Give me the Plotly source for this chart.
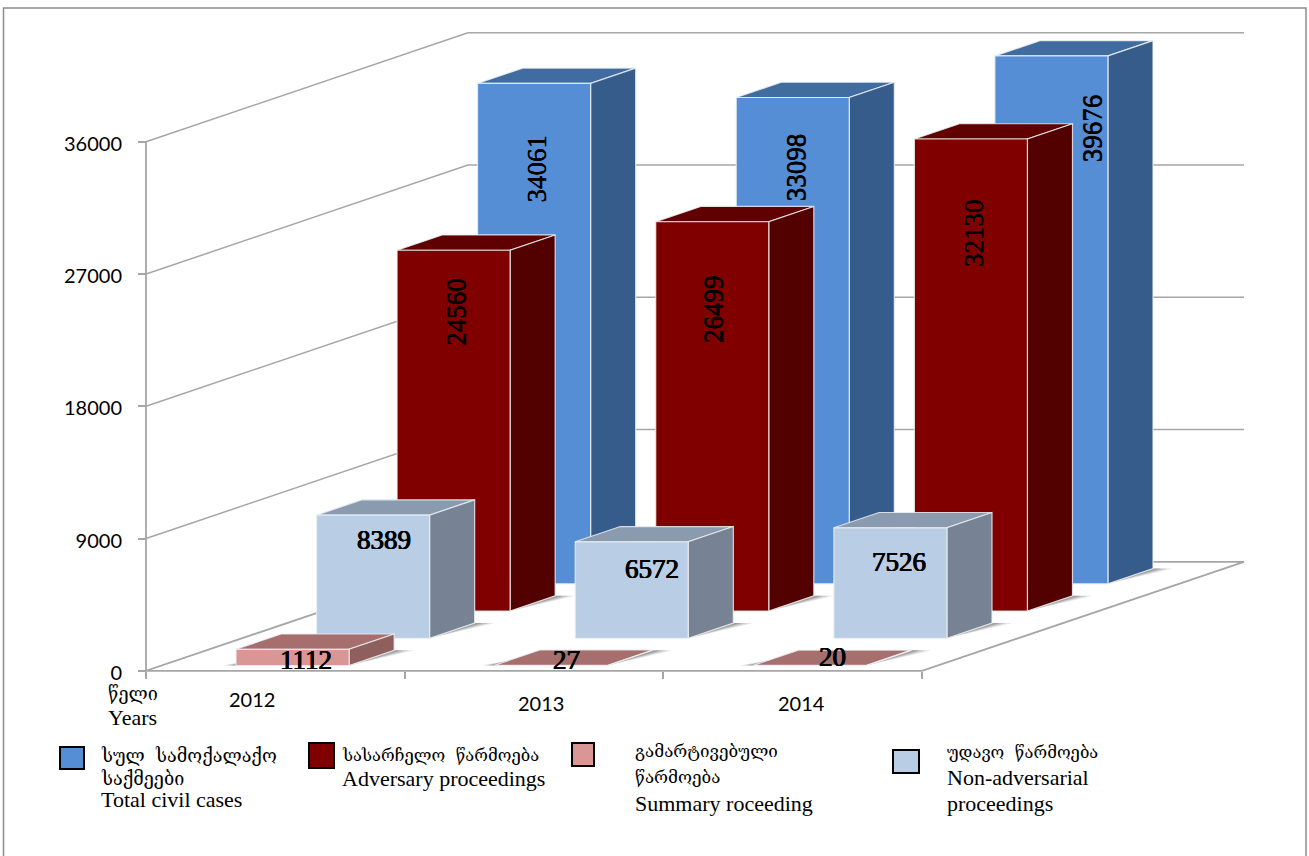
import plotly.graph_objects as go

# ---- data ----
years = ["2012", "2013", "2014"]
# drawn bar heights, read against the value axis
total_civil = [34061, 33098, 35930]
adversary = [24560, 26499, 32130]
non_adversarial = [8389, 6572, 7526]
summary = [1112, 27, 20]
# printed data labels (the tallest bar's label differs from its drawn height)
total_civil_labels = ["34061", "33098", "39676"]
adversary_labels = ["24560", "26499", "32130"]
non_adversarial_labels = ["8389", "6572", "7526"]
summary_labels = ["1112", "27", "20"]
value_ticks = [0, 9000, 18000, 27000, 36000]

legend_total = ["სულ  სამოქალაქო", "საქმეები", "Total civil cases"]
legend_adversary = ["სასარჩელო  წარმოება", "Adversary proceedings"]
legend_summary = ["გამარტივებული", "წარმოება", "Summary roceeding"]
legend_nonadv = ["უდავო  წარმოება", "Non-adversarial", "proceedings"]
axis_title = ["წელი", "Years"]

# ---- layout geometry (pixels of the 1309x856 page) ----
W, H = 1309, 856
PX0, PY0 = 146, 670.8        # origin of the front floor edge
PX_PER_CAT = 776 / 3
PX_PER_VAL = 529 / 36000
SLOT_DX, SLOT_DY = 80.5, 27.25   # one depth slot
N_SLOTS = 4
CAT_GAP, BAR_W = 0.289, 0.437
DEPTH_GAP, DEPTH_W = 0.19, 0.56

x_range = [-PX0 / PX_PER_CAT, (W - PX0) / PX_PER_CAT]
y_range = [-(H - PY0) / PX_PER_VAL, PY0 / PX_PER_VAL]


def proj(cat, depth, value):
    """oblique projection into the axis units"""
    return (cat + depth * SLOT_DX / PX_PER_CAT,
            value + depth * SLOT_DY / PX_PER_VAL)


def poly(points):
    xs, ys = [], []
    for c, d, v in points:
        x, y = proj(c, d, v)
        xs.append(x)
        ys.append(y)
    xs.append(xs[0])
    ys.append(ys[0])
    return xs, ys


def merged(polys):
    xs, ys = [], []
    for px, py in polys:
        xs += px + [None]
        ys += py + [None]
    return xs, ys


fig = go.Figure()
GRID = "#A6A6A6"

# walls + floor
for v in value_ticks[1:]:
    xs, ys = [], []
    for c, d in [(0, 0), (0, N_SLOTS), (3, N_SLOTS)]:
        x, y = proj(c, d, v)
        xs.append(x)
        ys.append(y)
    fig.add_trace(go.Scatter(x=xs, y=ys, mode="lines", line=dict(color=GRID, width=1.5), hoverinfo="skip"))
xs, ys = [], []
for c, d, v in [(0, 0, 36000), (0, 0, 0), (0, N_SLOTS, 0), (3, N_SLOTS, 0), (3, 0, 0), (0, 0, 0)]:
    x, y = proj(c, d, v)
    xs.append(x)
    ys.append(y)
fig.add_trace(go.Scatter(x=xs, y=ys, mode="lines", line=dict(color=GRID, width=1.8), hoverinfo="skip"))

series = [
    # values, labels, slot, front, side, top
    (total_civil, total_civil_labels, 3, "#558ED5", "#365C8B", "#416C9F"),
    (adversary, adversary_labels, 2, "#800000", "#530000", "#600000"),
    (non_adversarial, non_adversarial_labels, 1, "#B9CDE5", "#778394", "#8A9BB0"),
    (summary, summary_labels, 0, "#D99694", "#8E5F5D", "#A66F6E"),
]

for values, _labels, slot, front, side, top in series:
    d0 = slot + DEPTH_GAP
    d1 = d0 + DEPTH_W
    cats = range(len(values))
    lefts = [k + CAT_GAP for k in cats]
    rights = [k + CAT_GAP + BAR_W for k in cats]

    # soft floor shadow, layered
    for reach, alpha in [(1.0, 0.16), (0.7, 0.24), (0.4, 0.34)]:
        sh = [poly([(r, d0, 0), (r, d1, 0), (r + reach * 20 / PX_PER_CAT, d1, 0)]) for r in rights]
        sh += [poly([(l, d0, 0), (l - reach * 14 / PX_PER_CAT, d0, 0), (l, d0 + 0.2, 0)]) for l in lefts] if slot == 0 else []
        xs, ys = merged(sh)
        fig.add_trace(go.Scatter(x=xs, y=ys, mode="lines", fill="toself",
                                 fillcolor=f"rgba(90,90,90,{alpha})", line=dict(width=0), hoverinfo="skip"))

    faces = [
        (top, [poly([(l, d0, v), (r, d0, v), (r, d1, v), (l, d1, v)]) for l, r, v in zip(lefts, rights, values)]),
        (side, [poly([(r, d0, 0), (r, d1, 0), (r, d1, v), (r, d0, v)]) for r, v in zip(rights, values)]),
        (front, [poly([(l, d0, 0), (r, d0, 0), (r, d0, v), (l, d0, v)]) for l, r, v in zip(lefts, rights, values)]),
    ]
    for colour, polys in faces:
        xs, ys = merged(polys)
        fig.add_trace(go.Scatter(x=xs, y=ys, mode="lines", fill="toself", fillcolor=colour,
                                 line=dict(color="rgba(235,238,242,0.85)", width=1.2), hoverinfo="skip"))

# data labels: pixel shifts from each bar's front-top centre
label_shift = {
    3: [(3, 85), (3, 70), (41, 72)],
    2: [(3, 62), (1, 87), (3, 94)],
    1: [(11, 25), (20, 27), (9, 34)],
    0: [(13, 11), (15, -5), (23, -8)],
}
annotations = []
for values, labels, slot, *_ in series:
    rotated = slot >= 2
    for k, v in enumerate(values):
        x, y = proj(k + CAT_GAP + BAR_W / 2, slot + DEPTH_GAP, v)
        dx, dy = label_shift[slot][k]
        annotations.append(dict(
            x=x, y=y, xref="x", yref="y", xshift=dx, yshift=-dy, text=labels[k], showarrow=False,
            textangle=-90 if rotated else 0,
            font=dict(family="Liberation Serif", size=27, color="#000000",
                      shadow="0 0.3px 0 #000, 0 -0.2px 0 #000" if rotated
                      else "0.5px 0 0 #000, -0.4px 0 0 #000, 0 0.3px 0 #000"),
            xanchor="center", yanchor="middle"))


def page_text(px, py, text, size=22, family="Liberation Serif"):
    annotations.append(dict(x=(px - 2) / W, y=1 - py / H, xref="paper", yref="paper", text=text, showarrow=False,
                            xanchor="left", yanchor="middle", font=dict(family=family, size=size, color="#000000")))


GEO = "DejaVu Serif"
SERIF = "Liberation Serif"
# category labels
for yr, px, py in zip(years, [229, 518, 778], [699, 703, 703]):
    page_text(px, py, yr, size=20, family="Lato")
page_text(108, 693, axis_title[0], size=18, family=GEO)
page_text(108, 717, axis_title[1])

for i, t in enumerate(legend_total):
    page_text(101, [755, 778, 799][i], t, size=18 if i < 2 else 22, family=GEO if i < 2 else SERIF)
for i, t in enumerate(legend_adversary):
    page_text(342, [755, 778][i], t, size=16.6 if i < 1 else 22, family=GEO if i < 1 else SERIF)
for i, t in enumerate(legend_summary):
    page_text(635, [751, 777, 803][i], t, size=17 if i < 2 else 22, family=GEO if i < 2 else SERIF)
for i, t in enumerate(legend_nonadv):
    page_text(947, [752, 777, 803][i], t, size=16.6 if i < 1 else 22, family=GEO if i < 1 else SERIF)


def page_rect(x0, y0, x1, y1, **kw):
    return dict(type="rect", xref="paper", yref="paper", x0=x0 / W, x1=x1 / W,
                y0=1 - y0 / H, y1=1 - y1 / H, **kw)


shapes = [page_rect(3.5, 8, 1306, 870, line=dict(color="#8C8C8C", width=1.5), layer="below")]
for (x0, y0, x1, y1), col in zip(
        [(60, 747, 84, 769), (309, 743, 334, 768), (572, 743, 594, 766), (893, 750, 919, 773)],
        ["#558ED5", "#800000", "#D99694", "#B9CDE5"]):
    shapes.append(page_rect(x0, y0, x1, y1, fillcolor=col, line=dict(color="#000000", width=2)))

fig.update_layout(
    width=W, height=H, margin=dict(l=0, r=0, t=0, b=0),
    paper_bgcolor="#FFFFFF", plot_bgcolor="#FFFFFF", showlegend=False,
    annotations=annotations, shapes=shapes,
    xaxis=dict(range=x_range, domain=[0, 1], anchor="free", position=(H - PY0) / H,
               tickmode="array", tickvals=[0, 1, 2, 3], showticklabels=False,
               ticks="outside", ticklen=7, tickcolor=GRID, tickwidth=1.5,
               showgrid=False, zeroline=False, showline=False),
    yaxis=dict(range=y_range, domain=[0, 1], anchor="free", position=PX0 / W,
               tickmode="array", tickvals=value_ticks, ticktext=[str(v) for v in value_ticks],
               ticks="outside", ticklen=8, tickcolor=GRID, tickwidth=1.5,
               ticklabelstandoff=12, ticklabelshift=2,
               tickfont=dict(family="Lato", size=20, color="#000000"),
               showgrid=False, zeroline=False, showline=False),
)

fig.write_html("out.html", config={"displayModeBar": False},
               post_script="document.body.style.margin='0';document.documentElement.style.overflow='hidden';")
